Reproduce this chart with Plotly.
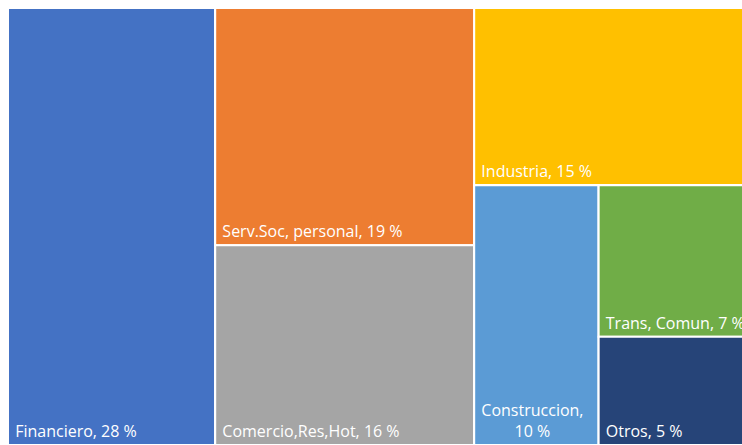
import plotly.graph_objects as go

# Data (percent shares)
labels = ["root", "Financiero", "g2", "Serv.Soc, personal", "Comercio,Res,Hot",
          "g3", "Industria", "g4", "Construccion", "g5", "Trans, Comun", "Otros"]
parents = ["", "root", "root", "g2", "g2",
           "root", "g3", "g3", "g4", "g4", "g5", "g5"]
values = [0, 28, 0, 19, 16, 0, 15, 0, 10, 0, 7, 5]
colors = ["#ffffff", "#4472C4", "#ffffff", "#ED7D31", "#A5A5A5",
          "#ffffff", "#FFC000", "#ffffff", "#5B9BD5", "#ffffff", "#70AD47", "#264478"]

NB = "\u00a0"


def make_text(lab, val):
    if val == 0:
        return ""
    if lab == "Construccion":
        return f"{NB}{lab},<br>{NB * 9}{val} %"
    return f"{NB}{lab}, {val} %"


texts = [make_text(l, v) for l, v in zip(labels, values)]

fig = go.Figure(go.Treemap(
    labels=labels,
    parents=parents,
    values=values,
    text=texts,
    branchvalues="remainder",
    sort=False,
    textinfo="text",
    texttemplate="%{text}",
    textposition="bottom left",
    textfont=dict(family="Open Sans", size=16, color="white"),
    marker=dict(colors=colors, line=dict(color="white", width=2),
                pad=dict(t=0, l=0, r=0, b=0)),
    tiling=dict(packing="slice-dice", pad=0),
    pathbar=dict(visible=False),
    hoverinfo="skip",
))

fig.update_layout(
    width=748, height=445,
    margin=dict(l=8, r=0, t=8, b=0),
    paper_bgcolor="white",
    uniformtext=dict(minsize=16, mode="show"),
)

fig.write_html(
    "out.html",
    config={"displayModeBar": False},
    post_script=(
        "document.body.style.margin='0';"
        "document.body.style.overflow='hidden';"
        "document.documentElement.style.overflow='hidden';"
    ),
)
